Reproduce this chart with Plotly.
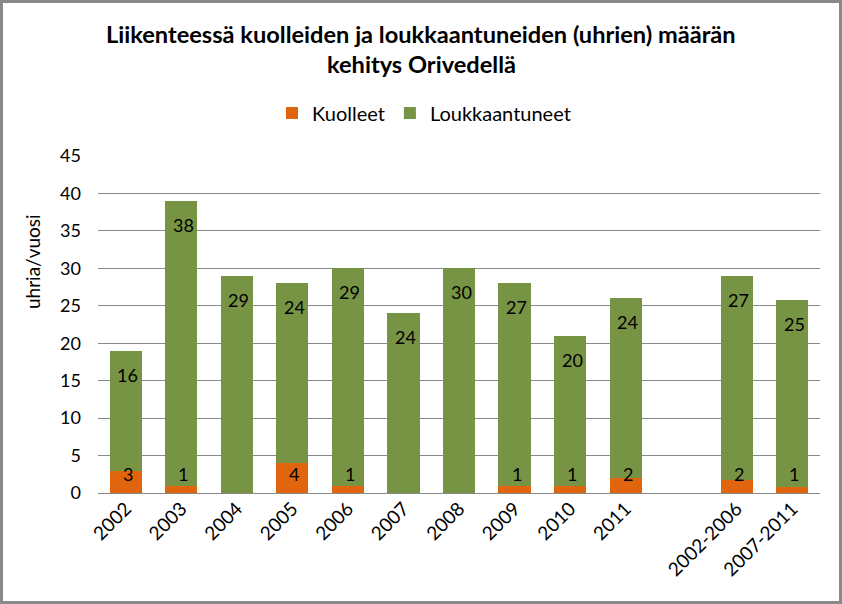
import plotly.graph_objects as go

categories = ["2002", "2003", "2004", "2005", "2006", "2007", "2008", "2009", "2010", "2011", " ", "2002-2006", "2007-2011"]
kuolleet = [3, 1, 0, 4, 1, 0, 0, 1, 1, 2, None, 1.8, 0.8]
loukkaantuneet = [16, 38, 29, 24, 29, 24, 30, 27, 20, 24, None, 27.2, 25]
title_lines = ["Liikenteessä kuolleiden ja loukkaantuneiden (uhrien) määrän", "kehitys Orivedellä"]

ORANGE = "#E0650E"
GREEN = "#779444"
FONT = "Lato"

W, H = 842, 604
L, R, T, B = 98, 22, 156, 111
PW, PH = W - L - R, H - T - B


def px_x(x):
    return (x - L) / PW


def px_y(y):
    return (H - B - y) / PH


fig = go.Figure()
fig.add_trace(go.Bar(x=categories, y=kuolleet, name="Kuolleet", marker=dict(color=ORANGE, line=dict(width=0))))
fig.add_trace(go.Bar(x=categories, y=loukkaantuneet, name="Loukkaantuneet", marker=dict(color=GREEN, line=dict(width=0))))

annotations = []
for i, (k, l) in enumerate(zip(kuolleet, loukkaantuneet)):
    if k is None:
        continue
    if round(k) > 0:
        annotations.append(dict(x=i, y=0, yshift=19, text=str(round(k)), showarrow=False,
                                font=dict(family=FONT, size=18, color="black"), xshift=2))
    annotations.append(dict(x=i, y=k + l, yshift=-24, text=str(round(l)), showarrow=False,
                            font=dict(family=FONT, size=18, color="black"), xshift=2))

annotations.append(dict(xref="paper", yref="paper", x=px_x(32), y=px_y(262), xanchor="center", yanchor="middle",
                        text="uhria/vuosi", textangle=-90, showarrow=False,
                        font=dict(family=FONT, size=19, color="black")))
for line, ypx in zip(title_lines, [34, 64]):
    annotations.append(dict(xref="paper", yref="paper", x=px_x(421), y=px_y(ypx), xanchor="center", yanchor="middle",
                            text="<b>" + line + "</b>", showarrow=False,
                            font=dict(family=FONT, size=23.6, color="black")))

fig.update_layout(
    width=W, height=H,
    margin=dict(l=L, r=R, t=T, b=B),
    barmode="stack", bargap=0.42,
    plot_bgcolor="white", paper_bgcolor="white",
    font=dict(family=FONT, color="black"),
    legend=dict(orientation="h", x=px_x(424), xanchor="center", y=px_y(113), yanchor="middle",
                font=dict(family=FONT, size=20, color="black"), itemwidth=30, traceorder="normal"),
    xaxis=dict(type="category", categoryorder="array", categoryarray=categories,
               range=[-0.5, len(categories) - 0.5], autorange=False,
               tickangle=-45, tickfont=dict(family=FONT, size=19, color="black"),
               showline=False, showgrid=False, ticks=""),
    yaxis=dict(range=[0, 45], autorange=False, dtick=5, showgrid=True, gridcolor="#888888", gridwidth=1,
               zeroline=True, zerolinecolor="#888888", zerolinewidth=1,
               tickfont=dict(family=FONT, size=18, color="black"), ticklabelstandoff=16,
               showline=False),
    annotations=annotations,
    shapes=[dict(type="rect", xref="paper", yref="paper",
                 x0=px_x(1.5), x1=px_x(W - 1.5), y0=px_y(H - 1.5), y1=px_y(1.5),
                 line=dict(color="#898989", width=3), fillcolor="rgba(0,0,0,0)", layer="above")],
)

fig.write_html("out.html", config={"displayModeBar": False},
               post_script="document.body.style.margin='0';document.body.style.overflow='hidden';")
